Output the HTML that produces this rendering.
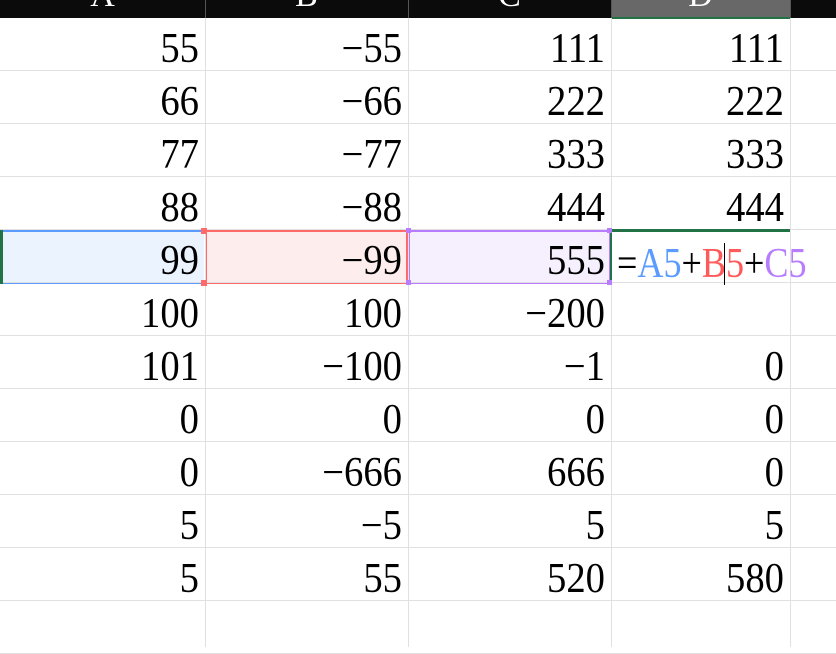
<!DOCTYPE html>
<html><head><meta charset="utf-8"><style>
body{margin:0;width:836px;height:647px;overflow:hidden;background:#fff;position:relative;font-family:"Liberation Serif","DejaVu Serif",serif}
.a{position:absolute}
.t{position:absolute;font-family:"Liberation Serif","DejaVu Serif",serif;font-size:42px;line-height:53px;text-align:right;color:#000;transform:scaleX(0.92);transform-origin:right center;white-space:nowrap}
.h{position:absolute;top:-24px;height:40px;font-family:"Liberation Serif","DejaVu Serif",serif;font-size:34px;color:#fff;text-align:center;line-height:40px}
</style></head><body>
<div class="a" style="left:0;top:0;width:836px;height:18px;background:#0b0b0b;overflow:hidden">
<div class="a" style="left:612px;top:0;width:178px;height:18px;background:#686868"></div>
<div class="h" style="left:0;width:205px">A</div>
<div class="h" style="left:205px;width:203px">B</div>
<div class="h" style="left:408px;width:203px">C</div>
<div class="h" style="left:611px;width:179px">D</div>
</div>
<div class="a" style="left:612px;top:17px;width:178px;height:2px;background:#217346"></div>
<div id="g"></div>
<script>
const rows=[["55","-55","111","111"],["66","-66","222","222"],["77","-77","333","333"],["88","-88","444","444"],["99","-99","555",""],["100","100","-200",""],["101","-100","-1","0"],["0","0","0","0"],["0","-666","666","0"],["5","-5","5","5"],["5","55","520","580"]];
const colX=[0,205,408,611,790,836];
const g=document.getElementById('g');
let h='';
h+='<div class="a" style="left:3px;top:230px;width:201px;height:54px;background:#ebf3fe;border-top:2px solid #5b9bff;border-bottom:2px solid #5b9bff;box-sizing:border-box"></div>';
h+='<div class="a" style="left:205px;top:230px;width:203px;height:54px;background:#feeded;border:2px solid #ff6b6b;box-sizing:border-box"></div>';
h+='<div class="a" style="left:408px;top:230px;width:203px;height:54px;background:#f5effe;border:2px solid #b77cff;box-sizing:border-box"></div>';
for(let i=0;i<=11;i++){const y=18+53*(i+1)-1;h+='<div class="a" style="left:0;top:'+y+'px;width:836px;height:1px;background:#e0e0e0"></div>';}
for(let c=1;c<5;c++){h+='<div class="a" style="left:'+colX[c]+'px;top:18px;width:1px;height:629px;background:#e0e0e0"></div>';h+='<div class="a" style="left:'+colX[c]+'px;top:0;width:1px;height:18px;background:#555"></div>';}
g.innerHTML=h;
rows.forEach((r,i)=>{r.forEach((v,c)=>{if(v==='')return;const d=document.createElement('div');d.className='t';


d.style.left=colX[c]+'px';d.style.width=(colX[c+1]-colX[c]-6)+'px';d.style.top=(18+53*i+5)+'px';d.textContent=v.replace('-','\u2212');g.appendChild(d);});});
</script>
<div class="a" style="left:0;top:230px;width:3px;height:54px;background:#217346"></div>
<div class="a" style="left:612px;top:229px;width:178px;height:3px;background:#217346"></div>
<div class="a" style="left:610px;top:230px;width:2px;height:50px;background:#217346"></div>
<div class="a" style="left:201px;top:228px;width:6px;height:6px;background:#ff6b6b"></div>
<div class="a" style="left:201px;top:280px;width:6px;height:6px;background:#ff6b6b"></div>
<div class="a" style="left:406px;top:228px;width:5px;height:5px;background:#b77cff"></div>
<div class="a" style="left:406px;top:280px;width:5px;height:5px;background:#b77cff"></div>
<div class="a" style="left:607px;top:228px;width:5px;height:5px;background:#b77cff"></div>
<div class="a" style="left:607px;top:280px;width:5px;height:5px;background:#b77cff"></div>
<div class="a" style="left:617px;top:238px;font-family:'Liberation Serif','DejaVu Serif',serif;font-size:42px;line-height:53px;white-space:nowrap;transform:scaleX(0.86);transform-origin:left center"><span>=</span><span style="color:#5b9bff">A5</span><span>+</span><span style="color:#ff5a5a">B</span><span style="color:#ff5a5a">5</span><span>+</span><span style="color:#b77cff">C5</span></div>
<div class="a" style="left:724px;top:243px;width:1px;height:42px;background:#000"></div>
</body></html>
